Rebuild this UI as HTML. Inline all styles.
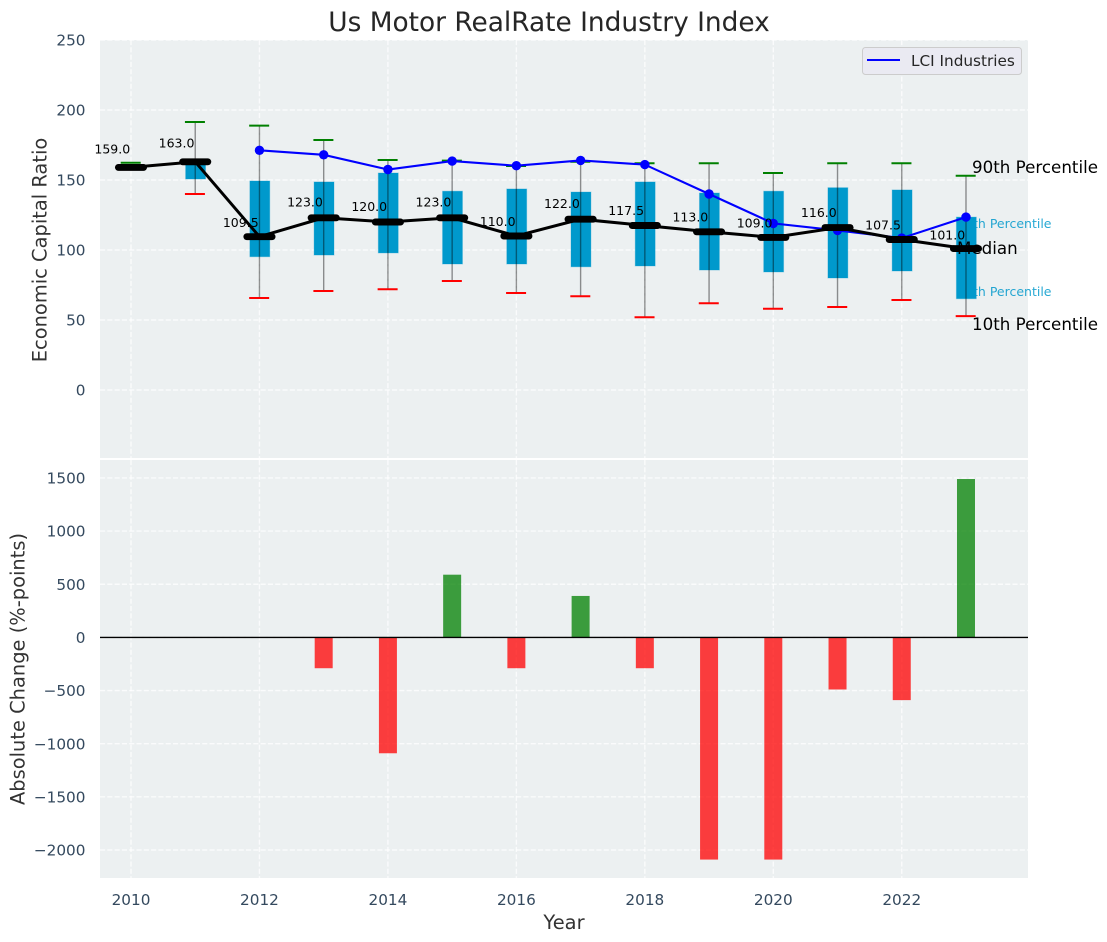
<!DOCTYPE html>
<html lang="en">
<head>
<meta charset="utf-8">
<title>Us Motor RealRate Industry Index</title>
<style>
html,body{margin:0;padding:0;background:#fff;width:1107px;height:942px;overflow:hidden}
svg{display:block}
text{font-family:"DejaVu Sans","Liberation Sans",sans-serif}
</style>
</head>
<body>
<svg id="chart" xmlns="http://www.w3.org/2000/svg" width="1107" height="942" viewBox="0 0 1107 942">
  <rect x="100" y="40" width="928" height="418" fill="#ecf0f1"/>
  <rect x="100" y="460" width="928" height="418" fill="#ecf0f1"/>
  <g id="grid"></g>
  <text x="549" y="31" font-size="26.4px" text-anchor="middle" fill="#262626">Us Motor RealRate Industry Index</text>
  <text transform="translate(46.5,250) rotate(-90)" font-size="19.44px" text-anchor="middle" fill="#333">Economic Capital Ratio</text>
  <text transform="translate(24.5,669) rotate(-90)" font-size="19.44px" text-anchor="middle" fill="#333">Absolute Change (%-points)</text>
  <text x="564" y="929" font-size="19.44px" text-anchor="middle" fill="#333">Year</text>
  <g id="ticks" fill="#34495e" font-size="15.28px"></g>
  <text x="1051.5" y="228" font-size="12.5px" text-anchor="end" fill="#0099cc" opacity="0.85">75th Percentile</text>
  <text x="1051.5" y="296" font-size="12.5px" text-anchor="end" fill="#0099cc" opacity="0.85">25th Percentile</text>
  <text x="972" y="173" font-size="16.7px" fill="#000">90th Percentile</text>
  <text x="972" y="330" font-size="16.7px" fill="#000">10th Percentile</text>
  <g id="boxes"></g>
  <text x="957" y="254" font-size="16.7px" fill="#000">Median</text>
  <g id="lci"></g>
  <g id="median"></g>
  <g id="bars"></g>
  <line x1="100" x2="1028" y1="637.4" y2="637.4" stroke="#000" stroke-width="1.4"/>
  <g>
    <rect x="862.5" y="47.5" width="159" height="27" rx="3" fill="#eaeaf2" stroke="#cccccc" stroke-width="1"/>
    <line x1="867" x2="900" y1="60" y2="60" stroke="#0000ff" stroke-width="2"/>
    <text x="911" y="66" font-size="15.28px" fill="#262626">LCI Industries</text>
  </g>
</svg>
<script>
const years = [2010,2011,2012,2013,2014,2015,2016,2017,2018,2019,2020,2021,2022,2023];
const p90 = [162.3,191.4,188.8,178.6,164.3,163.8,160,163,162,162,155,162,162,153];
const p75 = [159,163,149.3,148.6,155,142,143.6,141.4,148.6,140.7,142,144.5,142.9,123.5];
const medians = [159,163,109.5,123,120,123,110,122,117.5,113,109,116,107.5,101];
const p25 = [159,150.7,95.2,96.4,97.9,90,90,88,88.6,85.7,84.3,80,85,65.2];
const p10 = [159,140,65.7,70.7,72,77.9,69.3,67,52,62,58,59.3,64.3,52.8];
const lciYears = [2012,2013,2014,2015,2016,2017,2018,2019,2020,2021,2022,2023];
const lciValues = [171.2,168,157.5,163.5,160.2,164,161,140,119,114,108.5,123.5];
const changeYears = [2013,2014,2015,2016,2017,2018,2019,2020,2021,2022,2023];
const changeValues = [-290,-1090,590,-290,390,-290,-2090,-2090,-490,-590,1490];
const xTicks = [2010,2012,2014,2016,2018,2020,2022];
const topTicks = [0,50,100,150,200,250];
const bottomTicks = [-2000,-1500,-1000,-500,0,500,1000,1500];

const NS = 'http://www.w3.org/2000/svg';
const xAt = v => 131 + (v - 2010) * 64.23;
const yTop = v => 390 - v * 1.4;
const yBot = v => 637.4 - v * 0.1063;
function make(parent, tag, props, txt) {
  const el = document.createElementNS(NS, tag);
  for (const k in props) el.setAttribute(k, props[k]);
  if (txt !== undefined) el.textContent = txt;
  parent.appendChild(el);
  return el;
}
const gridG = document.getElementById('grid');
const ticksG = document.getElementById('ticks');
const boxesG = document.getElementById('boxes');
const lciG = document.getElementById('lci');
const medianG = document.getElementById('median');
const barsG = document.getElementById('bars');
const gridStyle = {stroke:'#fff','stroke-width':1.39,'stroke-dasharray':'5.1 2.2','stroke-opacity':0.75};

xTicks.forEach(t => {
  [[40,458],[460,878]].forEach(r => {
    const g = make(gridG, 'line', Object.assign({x1:xAt(t),x2:xAt(t),y1:r[0],y2:r[1]}, gridStyle));
    
    
  });
  const l = make(ticksG, 'text', {x:xAt(t),y:905,'text-anchor':'middle'}, String(t));
  
  
});
topTicks.forEach(t => {
  const g = make(gridG, 'line', Object.assign({x1:100,x2:1028,y1:yTop(t),y2:yTop(t)}, gridStyle));
  
  
  const l = make(ticksG, 'text', {x:85.5,y:yTop(t)+5.6,'text-anchor':'end'}, String(t));
  
  
});
bottomTicks.forEach(t => {
  const g = make(gridG, 'line', Object.assign({x1:100,x2:1028,y1:yBot(t),y2:yBot(t)}, gridStyle));
  
  
  const l = make(ticksG, 'text', {x:85.5,y:yBot(t)+5.6,'text-anchor':'end'}, String(t).replace('-', '\u2212'));
  
  
});

years.forEach((yr, i) => {
  const x = xAt(yr);
  const box = make(boxesG, 'rect', {x:x-9.6,width:19.9,y:yTop(p75[i]),height:yTop(p25[i])-yTop(p75[i]),fill:'#0099cc',stroke:'#0099cc','stroke-opacity':0.3,'stroke-width':1});
  
  
  if (yr > 2010) {
    const w = make(boxesG, 'line', {x1:x,x2:x,y1:yTop(p90[i]),y2:yTop(p10[i]),stroke:'#000','stroke-opacity':0.42,'stroke-width':1.4});
    
    
  }
  const hi = make(boxesG, 'line', {x1:x-10.3,x2:x+9.7,y1:yTop(p90[i]),y2:yTop(p90[i]),stroke:'#008000','stroke-width':2});
  
  
  const lo = make(boxesG, 'line', {x1:x-10.3,x2:x+9.7,y1:yTop(p10[i]),y2:yTop(p10[i]),stroke:'#ff0000','stroke-width':2});
  
  
});

const lciLine = make(lciG, 'polyline', {points:lciYears.map((y,i)=>xAt(y)+','+yTop(lciValues[i])).join(' '),fill:'none',stroke:'#0000ff','stroke-width':2.1});


lciYears.forEach((y,i) => {
  const c = make(lciG, 'circle', {cx:xAt(y),cy:yTop(lciValues[i]),r:4.7,fill:'#0000ff'});
  
  
});

const medLine = make(medianG, 'polyline', {points:years.map((y,i)=>xAt(y)+','+yTop(medians[i])).join(' '),fill:'none',stroke:'#000','stroke-width':3});


years.forEach((y,i) => {
  const m = make(medianG, 'line', {x1:xAt(y)-12.6,x2:xAt(y)+12.6,y1:yTop(medians[i]),y2:yTop(medians[i]),stroke:'#000','stroke-width':6.9,'stroke-linecap':'round'});
  
  
});
years.forEach((y,i) => {
  const t = make(medianG, 'text', {x:xAt(y)-0.8,y:yTop(medians[i]*1.06+3.66)+4.4,'text-anchor':'end','font-size':'12.5px',fill:'#000'}, medians[i].toFixed(1));
  
  
});

changeYears.forEach((y,i) => {
  const v = changeValues[i];
  const top = v > 0 ? yBot(v) : yBot(0);
  const b = make(barsG, 'rect', {x:xAt(y)-9,width:18,y:top,height:Math.abs(yBot(v)-yBot(0)),fill:v > 0 ? '#008000' : '#ff0000','fill-opacity':0.75});
  
  
});
</script>
</body>
</html>
